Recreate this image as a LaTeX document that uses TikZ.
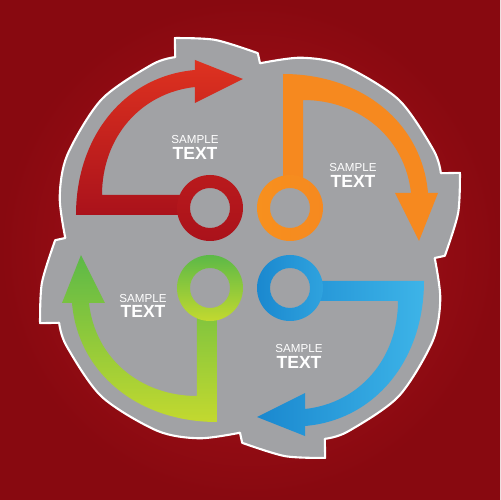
\documentclass[tikz,border=0pt]{standalone}
\usepackage{fontspec}
\setmainfont{Liberation Sans}

\definecolor{bgdark}{HTML}{880910}
\definecolor{bgmid}{HTML}{B0141C}
\definecolor{bodygray}{HTML}{A1A2A5}
\definecolor{redhi}{HTML}{DE3220}
\definecolor{redlo}{HTML}{AA121B}
\definecolor{redring}{HTML}{B0141B}
\definecolor{orahi}{HTML}{FBAF3C}
\definecolor{oralo}{HTML}{F6891F}
\definecolor{oraring}{HTML}{F7901E}
\definecolor{grnhi}{HTML}{C3D92F}
\definecolor{grnlo}{HTML}{5CB947}
\definecolor{bluhi}{HTML}{3DB4E8}
\definecolor{blulo}{HTML}{1A88CF}

% one quarter of the outer rim, turned by #1
\newcommand\rimpart[1]{-- (111.4-#1:205) -- plot[smooth,tension=.5] coordinates {(109.7-#1:223) (99.5-#1:211) (87.7-#1:195)}
	-- plot[smooth,tension=.5] coordinates {(86.9-#1:185) (75-#1:197) (63-#1:205) (45-#1:210) (28-#1:208) (21.4-#1:205)}}
% the top left arrow, the others are turned copies
\newcommand\arrowbody{(-63,53) -- (-148,53) .. controls (-148,110) and (-110,155) .. (-55,161) -- (-55,145) -- (-7,169) -- (-55,188) -- (-55,178) .. controls (-125,172) and (-174,112) .. (-174,33) -- (-63,33) -- cycle}
\newcommand\ringbody{(-40,40) circle (33) (-40,40) circle (20)}

\tikzset{
	smp/.style={inner sep=0pt, text=white, font=\fontsize{6.6}{7}\selectfont},
	txt/.style={inner sep=0pt, text=white, font=\fontsize{10}{10}\selectfont\bfseries}
}

\begin{document}
\begin{tikzpicture}[x=0.02cm,y=0.02cm]
	\useasboundingbox (-250,-252) rectangle (250,248);
	\shade [inner color=bgmid, outer color=bgdark] (-250,-252) rectangle (250,248);
	\path [fill=bodygray, draw=white, line width=1.2pt, line join=round] (111.4:205)
		\foreach \a in {0,90,180,270} { \rimpart{\a} } -- cycle;
	% red, top left
	\shade [top color=redhi, bottom color=redlo] \arrowbody;
	\shade [even odd rule, top color=redring!80!redhi, bottom color=redlo] \ringbody;
	% orange, top right
	\begin{scope}[rotate=-90]
		\shade [left color=oralo, middle color=orahi, right color=oralo] \arrowbody;
		\shade [even odd rule, left color=oraring, right color=oralo] \ringbody;
	\end{scope}
	% blue, bottom right
	\begin{scope}[rotate=-180]
		\shade [left color=blulo, right color=bluhi] \arrowbody;
		\shade [even odd rule, left color=blulo, right color=bluhi!60!blulo] \ringbody;
	\end{scope}
	% green, bottom left
	\begin{scope}[rotate=-270]
		\shade [top color=grnlo, bottom color=grnhi] \arrowbody;
		\shade [even odd rule, top color=grnlo, bottom color=grnhi] \ringbody;
	\end{scope}
	\node [smp] (s1) at (-55,108) {SAMPLE};
	\node [txt] (t1) at (-55,95) {TEXT};
	\node [smp] (s2) at (103,80) {SAMPLE};
	\node [txt] (t2) at (103,67) {TEXT};
	\node [smp] (s3) at (-107,-51) {SAMPLE};
	\node [txt] (t3) at (-107,-63) {TEXT};
	\node [smp] (s4) at (49,-101) {SAMPLE};
	\node [txt] (t4) at (49,-114) {TEXT};
\end{tikzpicture}
\end{document}
